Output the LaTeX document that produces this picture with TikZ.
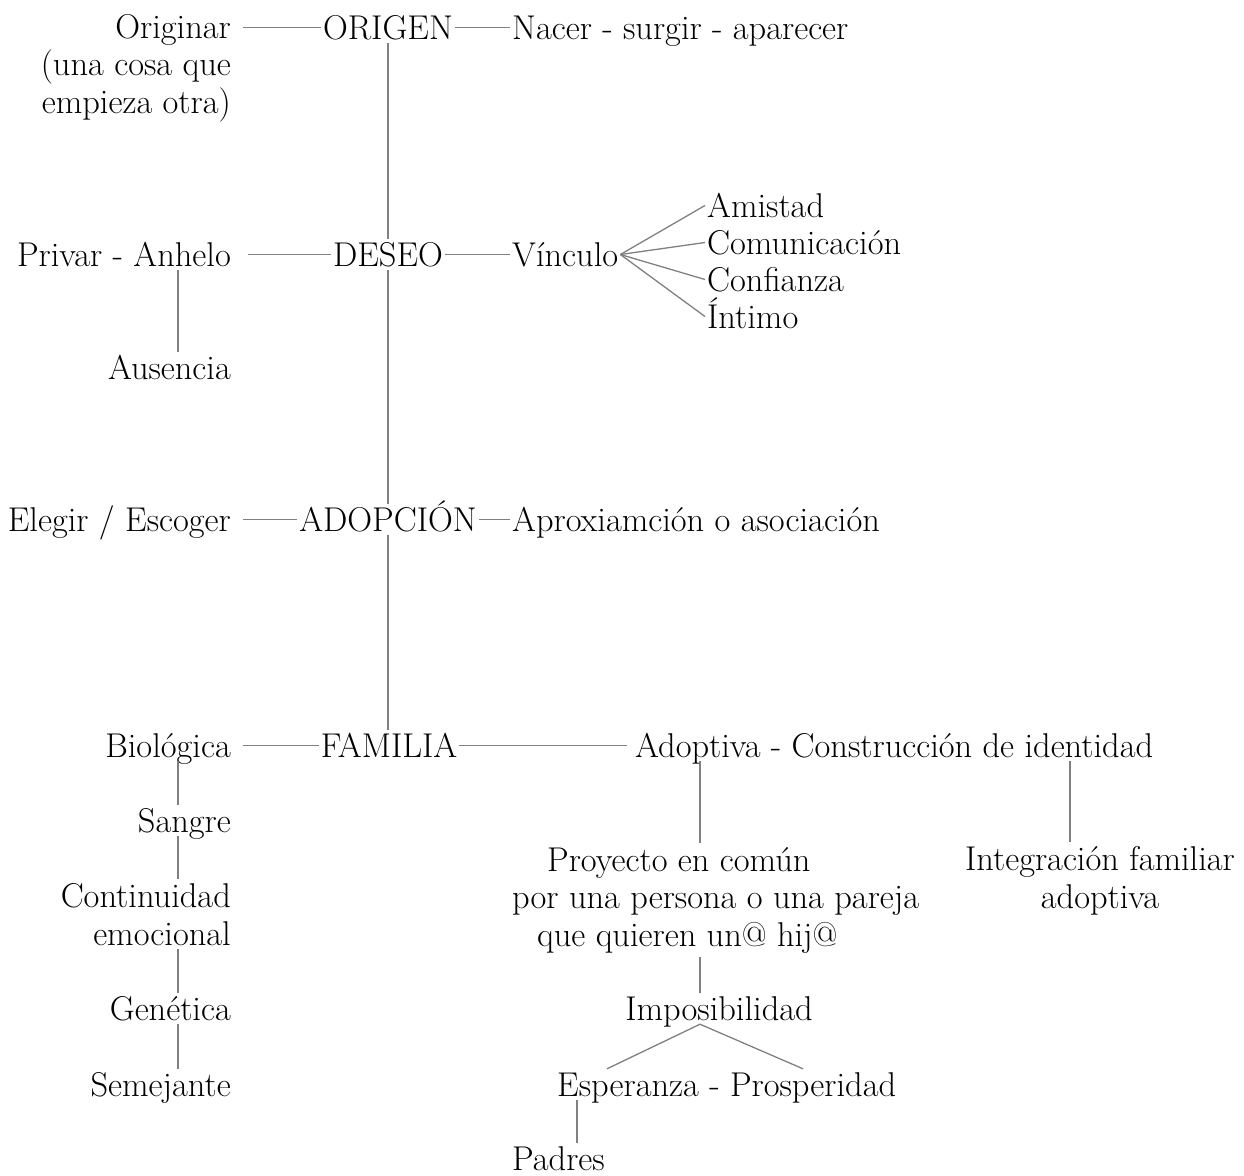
\documentclass[tikz,border=0pt]{standalone}
\begin{document}
\begin{tikzpicture}[x=1pt, y=-1pt,
	word/.style={ inner xsep=2pt, inner ysep=4pt, text height=23pt, text depth=0pt, font=\fontsize{34.4}{37.5}\selectfont },
	block/.style={ inner xsep=2pt, inner ysep=4pt, font=\fontsize{34.4}{37.5}\selectfont },
	link/.style={ black!50, line width=1.3pt }
]
\useasboundingbox (0,0) rectangle (1244,1175);

\coordinate (colx) at (178,0);
\coordinate (colr) at (700,0);
\coordinate (cols) at (1070,0);
\coordinate (colp) at (577,0);

\node[block, align=right, anchor=base east] at (233,113) (originar) {Originar\\(una cosa que\\empieza otra)};
\node[word, anchor=base] at (388,39) (origen) {ORIGEN};
\node[word, anchor=base west] at (510,39) (nacer) {Nacer - surgir - aparecer};
\draw[link, shorten <=10pt] (origen.west -| originar.east) -- (origen.west);
\draw[link] (origen.east) -- (nacer.west);

\node[word, anchor=base east] at (233,266) (privar) {Privar - Anhelo};
\node[word, anchor=base] at (388,266) (deseo) {DESEO};
\node[word, anchor=base west] at (510,266) (vinculo) {Vínculo};
\node[word, anchor=base west] at (705,217) (amistad) {Amistad};
\node[word, anchor=base west] at (705,254) (comunic) {Comunicación};
\node[word, anchor=base west] at (705,291) (confianza) {Confianza};
\node[word, anchor=base west] at (705,328) (intimo) {Íntimo};
\node[word, anchor=base east] at (233,379) (ausencia) {Ausencia};
\draw[link, shorten <=15pt] (privar.east) -- (deseo.west);
\draw[link] (deseo.east) -- (vinculo.west);
\foreach \p in {amistad,comunic,confianza,intimo} \draw[link] (vinculo.east) -- (\p.west);
\draw[link] (privar.south -| colx) -- (ausencia.north -| colx);

\node[word, anchor=base east] at (233,531) (elegir) {Elegir / Escoger};
\node[word, anchor=base] at (388,531) (adopcion) {ADOPCIÓN};
\node[word, anchor=base west] at (510,531) (aprox) {Aproxiamción o asociación};
\draw[link, shorten <=10pt] (elegir.east) -- (adopcion.west);
\draw[link] (adopcion.east) -- (aprox.west);

\node[word, anchor=base east] at (233,757) (biologica) {Biológica};
\node[word, anchor=base] at (389,757) (familia) {FAMILIA};
\node[word, anchor=base west] at (633,757) (adoptiva) {Adoptiva - Construcción de identidad};
\draw[link, shorten <=10pt] (biologica.east) -- (familia.west);
\draw[link, shorten >=6pt] (familia.east) -- (adoptiva.west);
\foreach \a/\b in {origen/deseo, deseo/adopcion, adopcion/familia} \draw[link] (\a.south) -- (\a.south |- \b.north);

\node[word, anchor=base east] at (233,832) (sangre) {Sangre};
\node[block, align=right, anchor=base east] at (233,945) (continuidad) {Continuidad\\emocional};
\node[word, anchor=base east] at (233,1020) (genetica) {Genética};
\node[word, anchor=base east] at (233,1096) (semejante) {Semejante};
\foreach \a/\b in {biologica/sangre, sangre/continuidad, continuidad/genetica, genetica/semejante} \draw[link] (\a.south -| colx) -- (\b.north -| colx);

\node[block, align=left, anchor=base west] at (510,946) (proyecto) {\hspace*{35pt}Proyecto en común\\por una persona o una pareja\\\hspace*{25pt}que quieren un@ hij@};
\node[block, align=center, anchor=base] at (1100,908) (integracion) {Integración familiar\\adoptiva};
\node[word, anchor=base] at (719,1020) (imposib) {Imposibilidad};
\node[word, anchor=base west] at (555,1096) (esperanza) {Esperanza - Prosperidad};
\node[word, anchor=base west] at (510,1170) (padres) {Padres};
\draw[link] (adoptiva.south -| colr) -- (proyecto.north -| colr);
\draw[link] (adoptiva.south -| cols) -- (integracion.north -| cols);
\draw[link] (proyecto.south -| colr) -- (imposib.north -| colr);
\draw[link] (imposib.south -| colr) -- ([xshift=52pt]esperanza.north west);
\draw[link] (imposib.south -| colr) -- ([xshift=248pt]esperanza.north west);
\draw[link] (esperanza.south -| colp) -- (padres.north -| colp);

\end{tikzpicture}
\end{document}
